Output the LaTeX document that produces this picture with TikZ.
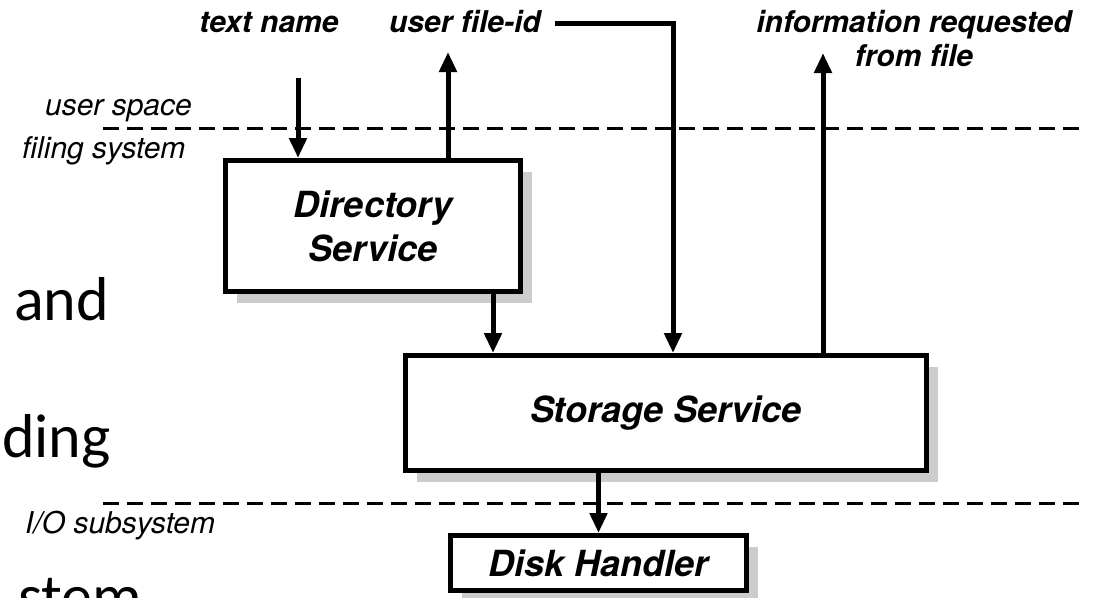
\documentclass[tikz,border=0pt]{standalone}
\usepackage{fontspec}
\setmainfont{TeX Gyre Heros}
\newfontfamily\slidefont{Carlito}
\usetikzlibrary{arrows.meta,shadows}
\begin{document}
\begin{tikzpicture}[x=1pt,y=-1pt,
  box/.style={draw, fill=white, line width=5pt, inner sep=0pt,
    font=\fontsize{36}{44}\selectfont\bfseries\itshape, align=center,
    drop shadow={shadow xshift=11pt, shadow yshift=-11pt, fill=black!20, opacity=1}},
  lab/.style={font=\fontsize{30}{34}\selectfont\bfseries\itshape, inner sep=0pt},
  zone/.style={font=\fontsize{30}{34}\selectfont\itshape, inner sep=0pt},
  slide/.style={font=\fontsize{62}{66}\slidefont, inner sep=0pt, anchor=base west},
  arr/.style={line width=5pt, -{Triangle[width=17pt,length=20pt]}},
  sep/.style={line width=3pt, dash pattern=on 16pt off 8pt}]
\useasboundingbox (0,0) rectangle (1094,597);
\clip (0,0) rectangle (1094,597);
\fill[white] (0,0) rectangle (1094,597);

% partial slide text behind
\node[slide] (t1) at (14,320) {and};
\node[slide] (t2) at (2,457) {\llap{n}ding};
\node[slide] (t3) at (18,617) {stem};

% separators
\draw[sep] (103,128) -- (1080,128);
\draw[sep] (103,503) -- (1080,503);
\node[zone, anchor=base east] (us) at (192,115) {user space};
\node[zone, anchor=base west] (fs) at (22,158) {filing system};
\node[zone, anchor=base west] (io) at (25,533) {I/O subsystem};

% boxes
\node[box, minimum width=295pt, minimum height=131pt] (dir) at (373,226) {Directory\\Service};
\node[box, minimum width=521pt, minimum height=115pt] (sto) at (666,413) {Storage Service};
\node[box, minimum width=296pt, minimum height=55pt] (disk) at (598.5,563) {Disk Handler};

% labels
\node[lab, anchor=base] (tn) at (269,32) {text name};
\node[lab, anchor=base east] (uf) at (541,32) {user file-id};
\node[lab, anchor=base] (ir1) at (914,32) {information requested};
\node[lab, anchor=base] (ir2) at (914,66) {from file};

\coordinate (tnend) at (298,78);
\coordinate (ufstart) at (555,23);
\coordinate (ufcorner) at (673,23);
\coordinate (dirup) at (448,52);
\coordinate (stoup) at (823,53);

% connectors
\draw[arr] (tnend) -- (tnend |- dir.north);
\draw[arr] (dirup |- dir.north) -- (dirup);
\draw[arr] (ufstart) -- (ufcorner) -- (ufcorner |- sto.north);
\draw[arr] (493,0 |- dir.south) -- (493,0 |- sto.north);
\draw[arr] (stoup |- sto.north) -- (stoup);
\draw[arr] (disk.north |- sto.south) -- (disk.north);
\end{tikzpicture}
\end{document}
